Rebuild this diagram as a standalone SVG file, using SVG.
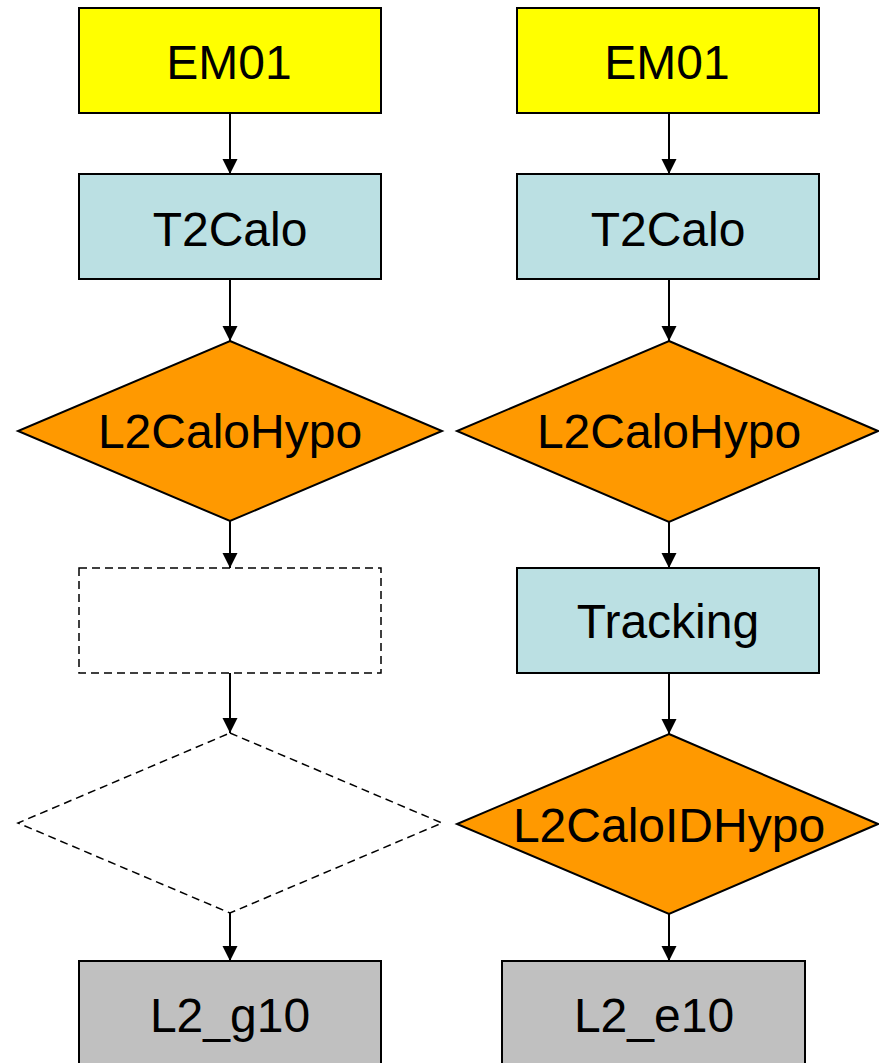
<svg xmlns="http://www.w3.org/2000/svg" width="879" height="1063" viewBox="0 0 879 1063">
<style>
.b{stroke:#000;stroke-width:2}
.d{fill:none;stroke:#000;stroke-width:1.5;stroke-dasharray:8 5}
.y{fill:#FFFF00}
.c{fill:#BBE0E3}
.o{fill:#FF9900}
.g{fill:#C0C0C0}
text{font-family:"Liberation Sans",Arial,sans-serif;font-size:48px;text-anchor:middle;fill:#000}
.e{stroke:#000;stroke-width:2;fill:none}
</style>
<defs>
<marker id="ah" markerUnits="userSpaceOnUse" markerWidth="16" markerHeight="16" refX="15" refY="7.5" orient="auto">
<path d="M0,0 L15,7.5 L0,15 z" fill="#000"/>
</marker>
</defs>
<rect width="879" height="1063" fill="#fff"/>
<g id="connectors">
<line class="e" x1="230" y1="113" x2="230" y2="174" marker-end="url(#ah)"/>
<line class="e" x1="230" y1="279" x2="230" y2="341" marker-end="url(#ah)"/>
<line class="e" x1="230" y1="521" x2="230" y2="568" marker-end="url(#ah)"/>
<line class="e" x1="230" y1="673" x2="230" y2="733" marker-end="url(#ah)"/>
<line class="e" x1="230" y1="913" x2="230" y2="961" marker-end="url(#ah)"/>
<line class="e" x1="669" y1="113" x2="669" y2="174" marker-end="url(#ah)"/>
<line class="e" x1="669" y1="279" x2="669" y2="341" marker-end="url(#ah)"/>
<line class="e" x1="669" y1="522" x2="669" y2="568" marker-end="url(#ah)"/>
<line class="e" x1="669" y1="673" x2="669" y2="734" marker-end="url(#ah)"/>
<line class="e" x1="669" y1="914" x2="669" y2="961" marker-end="url(#ah)"/>
</g>
<g id="em01-left"><rect class="b y" x="79" y="8" width="302" height="105"/><text x="229" y="79">EM01</text></g>
<g id="t2calo-left"><rect class="b c" x="79" y="174" width="302" height="105"/><text x="230" y="246">T2Calo</text></g>
<g id="l2calohypo-left"><polygon class="b o" points="230,341 442,431 230,521 18,431"/><text x="230" y="448">L2CaloHypo</text></g>
<g id="empty-box-left"><rect class="d" x="79" y="568" width="302" height="105"/></g>
<g id="empty-diamond-left"><polygon class="d" points="230,733 442,823 230,913 18,823"/></g>
<g id="l2g10"><rect class="b g" x="79" y="961" width="302" height="110"/><text x="230" y="1032">L2_g10</text></g>
<g id="em01-right"><rect class="b y" x="517" y="8" width="302" height="105"/><text x="667" y="79">EM01</text></g>
<g id="t2calo-right"><rect class="b c" x="517" y="174" width="302" height="105"/><text x="668" y="246">T2Calo</text></g>
<g id="l2calohypo-right"><polygon class="b o" points="669,341 878,431 669,522 457,431"/><text x="669" y="448">L2CaloHypo</text></g>
<g id="tracking"><rect class="b c" x="517" y="568" width="302" height="105"/><text x="668" y="638">Tracking</text></g>
<g id="l2caloidhypo"><polygon class="b o" points="669,734 878,824 669,914 457,824"/><text x="669" y="842">L2CaloIDHypo</text></g>
<g id="l2e10"><rect class="b g" x="502" y="961" width="303" height="110"/><text x="654" y="1032">L2_e10</text></g>
</svg>
